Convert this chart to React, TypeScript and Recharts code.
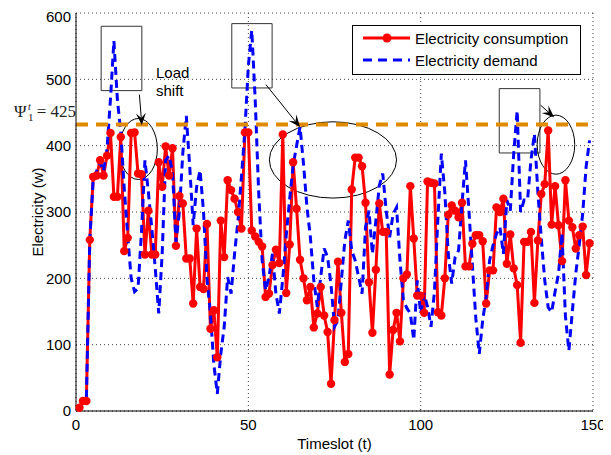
import React from "react";
import { LineChart, Line, XAxis, YAxis, CartesianGrid, Legend, ReferenceLine, ReferenceArea, ReferenceDot } from "recharts";

// values, timeslots 1..149
const consumption = [
  5, 15, 15, 258, 353, 355, 378, 355, 385, 419,
  323, 323, 413, 241, 261, 419, 420, 358, 357, 236,
  302, 236, 236, 375, 338, 399, 355, 396, 249, 324,
  313, 230, 230, 162, 275, 187, 184, 282, 124, 152,
  81, 287, 232, 348, 333, 320, 300, 275, 420, 420,
  272, 263, 255, 248, 172, 177, 220, 243, 223, 417,
  178, 251, 375, 305, 228, 200, 167, 187, 126, 147,
  187, 144, 119, 41, 137, 225, 148, 74, 86, 334,
  382, 382, 369, 314, 194, 118, 213, 313, 270, 270,
  55, 122, 148, 105, 200, 206, 339, 260, 174, 174,
  148, 346, 344, 343, 149, 144, 200, 296, 310, 302,
  292, 314, 218, 218, 252, 265, 265, 256, 162, 212,
  212, 307, 300, 320, 222, 266, 215, 190, 103, 255,
  255, 270, 163, 257, 327, 342, 423, 281, 339, 280,
  226, 348, 287, 277, 245, 265, 278, 205, 253,
];

const demand = [
  5, 12, 15, 258, 350, 362, 375, 362, 395, 470,
  558, 470, 420, 335, 265, 200, 180, 185, 270, 378,
  330, 275, 215, 147, 237, 378, 385, 360, 255, 300,
  390, 445, 368, 280, 338, 363, 300, 200, 147, 70,
  26, 86, 127, 202, 177, 237, 287, 353, 423, 520,
  574, 468, 330, 227, 182, 202, 237, 177, 147, 200,
  265, 320, 370, 400, 428, 373, 308, 262, 197, 157,
  202, 245, 232, 190, 127, 137, 197, 257, 287, 242,
  227, 202, 177, 277, 302, 237, 287, 340, 358, 302,
  262, 297, 307, 227, 167, 155, 147, 107, 197, 147,
  177, 157, 127, 180, 290, 388, 330, 237, 192, 232,
  242, 313, 378, 302, 220, 140, 86, 137, 172, 227,
  250, 267, 277, 237, 318, 302, 388, 453, 300, 318,
  318, 378, 418, 330, 260, 197, 156, 149, 180, 207,
  268, 143, 91, 150, 207, 250, 297, 368, 408,
];

const xTicks = [0, 50, 100, 150];
const yTicks = [0, 100, 200, 300, 400, 500, 600];
const threshold = 432; // drawn position of the Psi line

// annotations, in data units
const boxes = [
  { x1: 7.3, x2: 19.1, y1: 483, y2: 580 },
  { x1: 45.2, x2: 56.9, y1: 487, y2: 584 },
  { x1: 122.8, x2: 134.6, y1: 389, y2: 486 },
];
const ellipses = [
  { x1: 12.6, x2: 23.6, y1: 349, y2: 441 },
  { x1: 56.1, x2: 93.0, y1: 321, y2: 436 },
  { x1: 133.8, x2: 144.7, y1: 357, y2: 446 },
];
const arrows = [
  { from: { x: 18.4, y: 477 }, to: { x: 19.1, y: 431 } },
  { from: { x: 55.1, y: 492 }, to: { x: 65.0, y: 428 } },
  { from: { x: 134.8, y: 461 }, to: { x: 138.7, y: 443 } },
];

const data = consumption.map((v, i) => ({ t: i + 1, consumption: v, demand: demand[i] }));

const font = "'Liberation Sans', Arial, Helvetica, sans-serif";
const serif = "'Liberation Serif', 'DejaVu Serif', serif";

const ArrowShape = (p: any) => {
  const { x1, y1, x2, y2 } = p;
  const a = Math.atan2(y2 - y1, x2 - x1);
  const c = Math.cos(a), s = Math.sin(a);
  const L = 12, W = 5;
  const bx = x2 - L * c, by = y2 - L * s;
  const nx = x2 - L * 0.6 * c, ny = y2 - L * 0.6 * s;
  return (
    <g>
      <line x1={x1} y1={y1} x2={nx} y2={ny} stroke="#000" strokeWidth={1} />
      <polygon
        points={`${x2},${y2} ${bx - s * W},${by + c * W} ${nx},${ny} ${bx + s * W},${by - c * W}`}
        fill="#000"
      />
    </g>
  );
};

const EllipseShape = (p: any) => (
  <ellipse
    cx={p.x + p.width / 2}
    cy={p.y + p.height / 2}
    rx={Math.abs(p.width) / 2}
    ry={Math.abs(p.height) / 2}
    fill="none"
    stroke="#000"
    strokeWidth={1}
  />
);

const PsiLabel = (p: any) => {
  const x = p.viewBox.x;
  const y = p.viewBox.y;
  return (
    <g>
      <rect x={x - 64} y={y - 22} width={65} height={20} fill="#fff" />
      <text x={x - 62} y={y - 7} fontFamily={serif} fontSize={17} fill="#222">Ψ</text>
      <text x={x - 48} y={y - 3} fontFamily={serif} fontSize={11} fill="#222">1</text>
      <text x={x - 48} y={y - 14} fontFamily={serif} fontSize={10} fontStyle="italic" fill="#222">t</text>
      <text x={x} y={y - 7} textAnchor="end" fontFamily={serif} fontSize={17} fill="#222">= 425</text>
    </g>
  );
};

const LoadShift = (p: any) => (
  <text x={p.cx} y={p.cy} fontFamily={font} fontSize={15} fill="#000">
    <tspan x={p.cx} dy={0}>Load</tspan>
    <tspan x={p.cx} dy={18}>shift</tspan>
  </text>
);

const LegendBox = () => (
  <div style={{ border: "1.5px solid #000", background: "#fff", width: 227, height: 46, fontFamily: font, fontSize: 15, color: "#000", padding: "1px 0" }}>
    <div style={{ display: "flex", alignItems: "center", height: 22 }}>
      <svg width={62} height={22}>
        <line x1={10} y1={11} x2={57} y2={11} stroke="#ff0000" strokeWidth={3} />
        <circle cx={34} cy={11} r={4.5} fill="#ff0000" />
      </svg>
      <span>Electricity consumption</span>
    </div>
    <div style={{ display: "flex", alignItems: "center", height: 22 }}>
      <svg width={62} height={22}>
        <line x1={10} y1={11} x2={57} y2={11} stroke="#0000ff" strokeWidth={3} strokeDasharray="9 6" />
      </svg>
      <span>Electricity demand</span>
    </div>
  </div>
);

export default function App() {
  return (
    <div style={{ width: 600, height: 447 }}>
      <LineChart width={600} height={447} data={data} margin={{ top: 5, right: 15, bottom: 0, left: 10 }}>
        <CartesianGrid stroke="#444" strokeDasharray="1 3" strokeWidth={1} />
        <XAxis
          dataKey="t"
          type="number"
          domain={[0, 150]}
          ticks={xTicks}
          height={44}
          tickLine={false}
          tickSize={3}
          tickMargin={5}
          axisLine={{ stroke: "#000" }}
          tick={{ fill: "#000", fontSize: 15, fontFamily: font }}
          label={{ value: "Timeslot (t)", position: "insideBottom", offset: 6, fill: "#000", fontSize: 15, fontFamily: font }}
        />
        <YAxis
          type="number"
          domain={[0, 600]}
          ticks={yTicks}
          width={58}
          tickLine={false}
          tickSize={3}
          tickMargin={2}
          axisLine={{ stroke: "#000" }}
          tick={{ fill: "#000", fontSize: 15, fontFamily: font }}
          label={{ value: "Electricity (w)", angle: -90, position: "insideLeft", offset: 20, fill: "#000", fontSize: 15, fontFamily: font, style: { textAnchor: "middle" } }}
        />
        <Legend
          layout="vertical"
          align="center"
          verticalAlign="middle"
          content={<LegendBox />}
          wrapperStyle={{ left: 344, top: 17, width: 231 }}
        />
        <Line
          type="linear"
          dataKey="consumption"
          name="Electricity consumption"
          stroke="#ff0000"
          strokeWidth={3}
          dot={{ r: 4.2, fill: "#ff0000", stroke: "#ff0000", strokeWidth: 0 }}
          isAnimationActive={false}
        />
        <Line
          type="linear"
          dataKey="demand"
          name="Electricity demand"
          stroke="#0000ff"
          strokeWidth={3}
          strokeDasharray="8 5"
          dot={false}
          isAnimationActive={false}
        />
        <ReferenceLine y={threshold} stroke="#e08a00" strokeWidth={4} strokeDasharray="12 8" label={{ content: PsiLabel }} />
        {boxes.map((b, i) => (
          <ReferenceArea key={"b" + i} x1={b.x1} x2={b.x2} y1={b.y1} y2={b.y2} fill="none" fillOpacity={0} stroke="#333" strokeWidth={1} />
        ))}
        {ellipses.map((e, i) => (
          <ReferenceArea key={"e" + i} x1={e.x1} x2={e.x2} y1={e.y1} y2={e.y2} shape={EllipseShape} />
        ))}
        {arrows.map((a, i) => (
          <ReferenceLine key={"a" + i} segment={[a.from, a.to]} shape={ArrowShape} />
        ))}
        <ReferenceDot x={23.2} y={502} r={0} shape={LoadShift} />
      </LineChart>
    </div>
  );
}
